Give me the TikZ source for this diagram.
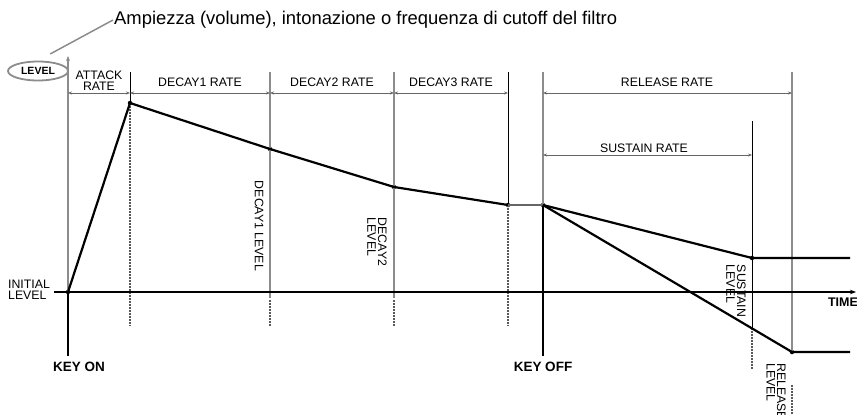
\documentclass[tikz,border=0pt]{standalone}
\usepackage{fontspec}
\setmainfont{Liberation Sans}
\usetikzlibrary{arrows.meta,shapes.geometric}
\begin{document}
\begin{tikzpicture}[x=1pt,y=-1pt,
  lbl/.style={font=\fontsize{12.3}{10.6}\selectfont, inner sep=0pt, align=center},
  rlbl/.style={font=\fontsize{12.3}{10.6}\selectfont, inner sep=0pt, align=left, rotate=-90},
  boldlbl/.style={font=\fontsize{13.5}{14}\selectfont\bfseries, inner sep=0pt},
  env/.style={line width=2.2pt, line join=round},
  guide/.style={line width=1.4pt, draw=black!45},
  thinl/.style={line width=1pt},
  dotl/.style={line width=1.1pt, draw=black!65, dash pattern=on 1.5pt off 1.5pt},
  dim/.style={line width=0.8pt, draw=black!60, {Stealth[length=4pt,width=3pt]}-{Stealth[length=4pt,width=3pt]}},
  pt/.style={circle, fill, inner sep=0pt, minimum size=4.5pt}]
\useasboundingbox (0,0) rectangle (857,415);

% key points
\node[pt] (P0) at (68,292) {};
\node[pt] (P1) at (130,103) {};
\node[pt] (P2) at (270,149) {};
\node[pt] (P3) at (394,187) {};
\node[pt] (P4) at (508,205) {};
\node[pt] (P5) at (543,205) {};
\node[pt] (P6) at (752,258) {};
\node[pt] (P7) at (792,352) {};

% auxiliary coordinates
\coordinate (AxL) at (54,292);
\coordinate (AxR) at (856,292);
\coordinate (AxT) at (68,56);
\coordinate (KonB) at (68,356);
\coordinate (KoffB) at (543,356);
\coordinate (T1) at (130,72);
\coordinate (T2) at (270,72);
\coordinate (T3) at (394,72);
\coordinate (T4) at (508,72);
\coordinate (T5) at (543,72);
\coordinate (T6) at (752,121);
\coordinate (T7) at (792,72);
\coordinate (B1) at (130,326);
\coordinate (B2a) at (270,298);
\coordinate (B2b) at (270,300);
\coordinate (B2) at (270,326);
\coordinate (B3a) at (394,298);
\coordinate (B3b) at (394,300);
\coordinate (B3) at (394,326);
\coordinate (B4) at (508,326);
\coordinate (B6a) at (752,328);
\coordinate (B6) at (752,370);
\coordinate (B7a) at (792,385);
\coordinate (B7) at (792,415);
\coordinate (S6) at (850,258);
\coordinate (R7) at (850,352);
\coordinate (A1) at (68,93);
\coordinate (A2) at (130,93);
\coordinate (A3) at (270,93);
\coordinate (A4) at (394,93);
\coordinate (A5) at (508,93);
\coordinate (A6) at (543,93);
\coordinate (A7) at (792,93);
\coordinate (C6) at (543,155);
\coordinate (C7) at (752,155);

% guide verticals
\draw[guide] (T2) -- (B2a);
\draw[guide] (T3) -- (B3a);
\draw[guide] (T5) -- (P5.center);
\draw[guide] (T7) -- (P7.center);
\draw[thinl] (T1) -- (P1.center);
\draw[thinl] (T4) -- (P4.center);
\draw[thinl] (T6) -- (B6a);
\draw[dotl] (P1.center) -- (B1);
\draw[dotl] (B2b) -- (B2);
\draw[dotl] (B3b) -- (B3);
\draw[dotl] (P4.center) -- (B4);
\draw[dotl] (B6a) -- (B6);
\draw[dotl] (B7a) -- (B7);

% axes
\draw[guide, -{Stealth[length=5pt,width=4pt]}] (P0.center) -- (AxT);
\draw[line width=1.3pt, -{Stealth[length=6pt,width=4.5pt]}] (AxL) -- (AxR);
\draw[line width=2.6pt] (P0.center) -- (KonB);
\draw[line width=2.6pt] (P5.center) -- (KoffB);

% dimension arrows
\draw[dim] (A1) -- (A2);
\draw[dim] (A2) -- (A3);
\draw[dim] (A3) -- (A4);
\draw[dim] (A4) -- (A5);
\draw[dim] (A6) -- (A7);
\draw[dim] (C6) -- (C7);

% envelope
\draw[env] (P0.center) -- (P1.center) -- (P2.center) -- (P3.center) -- (P4.center);
\draw[env, draw=black!60] (P4.center) -- (P5.center);
\draw[env] (P5.center) -- (P6.center) -- (S6);
\draw[env] (P5.center) -- (P7.center) -- (R7);

% level ellipse and title
\node[ellipse, draw=black!45, line width=1.8pt, minimum width=60pt, minimum height=19pt, inner sep=0pt,
      font=\fontsize{10.5}{11}\selectfont\bfseries] (LV) at (38,71) {LEVEL};
\node[anchor=west, inner sep=1pt, font=\fontsize{18.4}{20}\selectfont] (title) at (113,20)
  {Ampiezza (volume), intonazione o frequenza di cutoff del filtro};
\draw[black!45, line width=1.5pt, shorten <=14pt] (LV.north) -- (title.west);

% labels
\node[lbl] (la) at (99,81) {ATTACK\\RATE};
\node[lbl] (ld1) at (200,82) {DECAY1 RATE};
\node[lbl] (ld2) at (332,82) {DECAY2 RATE};
\node[lbl] (ld3) at (451,82) {DECAY3 RATE};
\node[lbl] (lr) at (667,82) {RELEASE RATE};
\node[lbl] (ls) at (644,148) {SUSTAIN RATE};
\node[lbl, align=left, anchor=west] (li) at (8,290) {INITIAL\\LEVEL};
\node[rlbl] (ld1l) at (259,226) {DECAY1 LEVEL};
\node[rlbl] (ld2l) at (377,242) {DECAY2\\LEVEL};
\node[rlbl] (lsl) at (736,291) {SUSTAIN\\LEVEL};
\node[rlbl, anchor=north west] (lrl) at (786,363) {RELEASE\\LEVEL};
\node[boldlbl] (kon) at (79,367) {KEY ON};
\node[boldlbl] (koff) at (543,367) {KEY OFF};
\node[boldlbl, font=\fontsize{12.5}{13}\selectfont\bfseries] (time) at (843,302) {TIME};
\end{tikzpicture}
\end{document}
